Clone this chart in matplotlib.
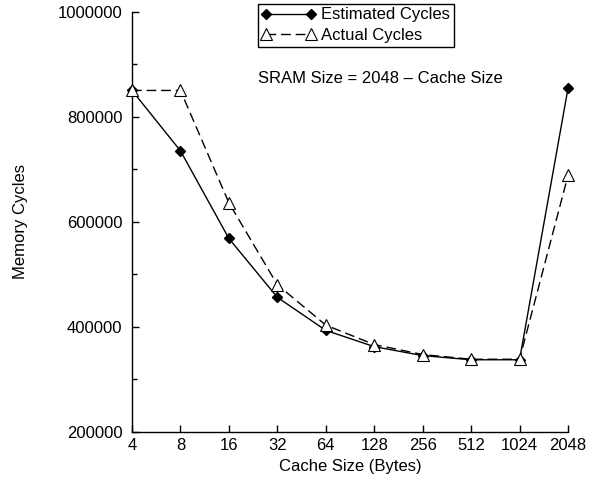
import numpy as np
from matplotlib import pyplot as plt
from matplotlib.ticker import MultipleLocator, FormatStrFormatter

plt.rcParams['font.family'] = ['Liberation Sans', 'DejaVu Sans']

#Data
cache_sizes = ['4', '8', '16', '32', '64', '128', '256', '512', '1024', '2048']
estimated = [850000, 735000, 568000, 456000, 393000, 362000, 345000, 337000, 337000, 854000]
actual = [850000, 850000, 636000, 480000, 403000, 366000, 347000, 338000, 338000, 688000]

x = np.arange(len(cache_sizes))
fs = 12

fig = plt.figure(figsize=(5.95, 4.8), dpi=100)
ax = fig.add_axes([132/595, 1 - 431.7/480, (568-132)/595, (431.7-11.7)/480])

ax.plot(x, estimated, '-', color='black', lw=1, marker='D', ms=5.6,
        mfc='black', mec='black', label='Estimated Cycles', clip_on=False, zorder=3)
ax.plot(x, actual, '--', color='black', lw=1, dashes=(7, 3.5), marker='^', ms=8.5,
        mfc='white', mec='black', mew=0.8, label='Actual Cycles', clip_on=False, zorder=4)

ax.set_xlim(0, 9)
ax.set_ylim(200000, 1000000)
ax.set_xticks(x)
ax.set_xticklabels(cache_sizes)
ax.yaxis.set_major_locator(MultipleLocator(200000))
ax.yaxis.set_minor_locator(MultipleLocator(100000))
ax.yaxis.set_major_formatter(FormatStrFormatter('%d'))
ax.tick_params(axis='both', which='major', direction='in', length=5, width=1, labelsize=fs)
ax.tick_params(axis='y', which='minor', direction='in', length=3.5, width=1)
ax.tick_params(axis='y', pad=7)
ax.tick_params(axis='x', pad=4.5)

for s in ['top', 'right']:
    ax.spines[s].set_visible(False)
for s in ['left', 'bottom']:
    ax.spines[s].set_linewidth(1)

ax.set_xlabel('Cache Size (Bytes)', fontsize=fs, labelpad=4)
ax.set_ylabel('Memory Cycles', fontsize=fs, labelpad=21)

leg = ax.legend(loc='upper left', bbox_to_anchor=(0.289, 1.018), numpoints=2,
                frameon=True, fancybox=False, edgecolor='black', framealpha=1,
                fontsize=fs, handlelength=3.3, handletextpad=0.3,
                borderpad=0.2, labelspacing=0.35, borderaxespad=0)
leg.get_frame().set_linewidth(1)

ax.text(0.289, 0.842, 'SRAM Size = 2048 \u2013 Cache Size', transform=ax.transAxes,
        fontsize=fs, ha='left', va='center')

plt.savefig('out.png', dpi=100)
